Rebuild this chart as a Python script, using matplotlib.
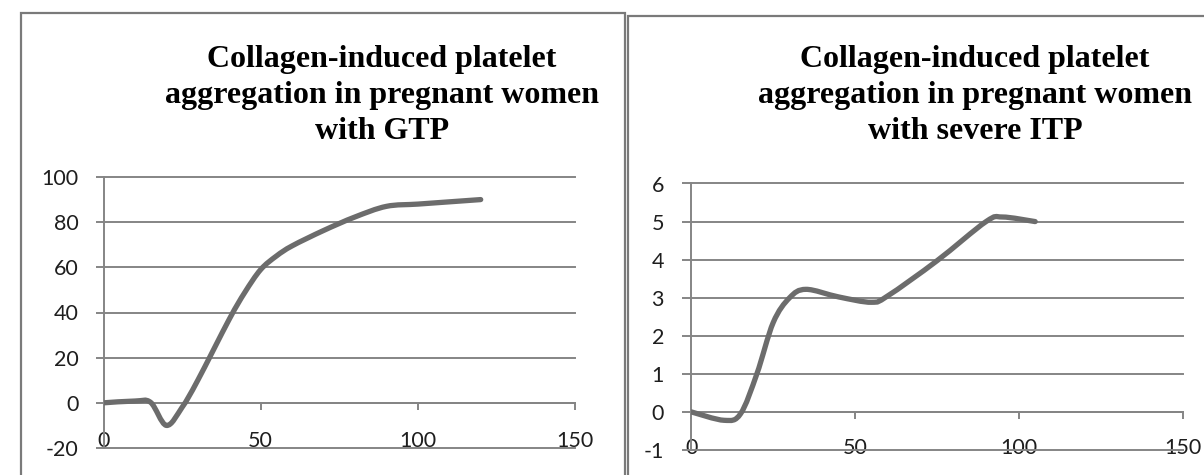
import numpy as np
import matplotlib
matplotlib.use('Agg')
from matplotlib import pyplot as plt
from matplotlib.path import Path
from matplotlib.patches import PathPatch, Rectangle

# aggregation curves, time vs. aggregation
gtp_time = [0, 10, 15, 20, 25, 30, 40, 45, 50, 55, 60, 70, 80, 90, 100, 110, 120]
gtp_aggr = [0, 0.8, 0.2, -10, -2, 10, 37, 49, 59, 65, 69.5, 76.3, 82.3, 87, 88, 89, 90]

itp_time = [0, 10, 15, 20, 25, 30, 35, 45, 55, 60, 75, 90, 95, 105]
itp_aggr = [0, -0.22, -0.05, 1.0, 2.35, 3.0, 3.22, 3.02, 2.88, 3.05, 3.97, 5.0, 5.12, 5.0]

gtp_title = 'Collagen-induced platelet\naggregation in pregnant women\nwith GTP'
itp_title = 'Collagen-induced platelet\naggregation in pregnant women\nwith severe ITP'

x_ticks = [0, 50, 100, 150]
gtp_yticks = [-20, 0, 20, 40, 60, 80, 100]
itp_yticks = [-1, 0, 1, 2, 3, 4, 5, 6]

line_color = '#6c6c6c'
grid_color = '#858585'
tick_font = ['Lato', 'DejaVu Sans']
title_font = ['Liberation Serif', 'DejaVu Serif']


def smooth_path(xs, ys, tension=1 / 6):
    # spreadsheet-style smoothed line: cubic bezier through every point
    pts = np.column_stack([xs, ys]).astype(float)
    n = len(pts)
    verts = [pts[0]]
    codes = [Path.MOVETO]
    for i in range(n - 1):
        p0 = pts[i - 1] if i > 0 else pts[i]
        p1 = pts[i]
        p2 = pts[i + 1]
        p3 = pts[i + 2] if i + 2 < n else pts[i + 1]
        c1 = p1 + (p2 - p0) * tension
        c2 = p2 - (p3 - p1) * tension
        verts += [c1, c2, p2]
        codes += [Path.CURVE4] * 3
    return Path(verts, codes)


def draw_panel(ax, xs, ys, yticks, title, title_x, tick_len, label_pad_y, label_pad_x):
    for side in ['top', 'right']:
        ax.spines[side].set_visible(False)
    # x axis crosses at zero; set before ticks since it resets them
    ax.spines['bottom'].set_position(('data', 0))
    ax.spines['bottom'].set_color(grid_color)
    ax.spines['bottom'].set_linewidth(1.4)
    ax.spines['left'].set_color(grid_color)
    ax.spines['left'].set_linewidth(1.4)

    ax.set_xlim(0, 150)
    ax.set_ylim(yticks[0], yticks[-1])
    ax.set_xticks(x_ticks)
    ax.set_yticks(yticks)
    ax.set_xticklabels([str(t) for t in x_ticks], family=tick_font, fontsize=15.5, color='#1e1e1e')
    ax.set_yticklabels([str(t) for t in yticks], family=tick_font, fontsize=15.5, color='#1e1e1e')

    ax.tick_params(axis='y', direction='out', length=tick_len, width=1.4, color=grid_color, pad=label_pad_y)
    ax.tick_params(axis='x', direction='out', length=5, width=1.4, color=grid_color, pad=label_pad_x)

    ax.yaxis.grid(True, color=grid_color, linewidth=1.4)
    for gl in ax.get_ygridlines():
        gl.set_clip_on(False)
    ax.set_axisbelow(True)

    patch = PathPatch(smooth_path(xs, ys), facecolor='none', edgecolor=line_color,
                      linewidth=3.8, capstyle='round', joinstyle='round', zorder=3)
    ax.add_patch(patch)

    # baseline of the last title line
    ax.figure.text(title_x, 1 - 139 / 475, title, ha='center', va='baseline',
                   family=title_font, fontweight='bold', fontsize=23, linespacing=1.32)


fig = plt.figure(figsize=(12.04, 4.75), dpi=100)

# panel frames
fig.patches.append(Rectangle((20.7 / 1204, -0.2), (625 - 20.7) / 1204, 1.2 - 12.7 / 475,
                             transform=fig.transFigure, fill=False, edgecolor='#7a7a7a', linewidth=1.6))
fig.patches.append(Rectangle((628 / 1204, -0.2), 0.6, 1.2 - 15.7 / 475,
                             transform=fig.transFigure, fill=False, edgecolor='#7a7a7a', linewidth=1.6))

ax1 = fig.add_axes([103.5 / 1204, 1 - 448 / 475, 471.5 / 1204, 271 / 475])
draw_panel(ax1, gtp_time, gtp_aggr, gtp_yticks, gtp_title, 382 / 1204, 5.8, 12, 15)

ax2 = fig.add_axes([691.4 / 1204, 1 - 450 / 475, 491.1 / 1204, 266.5 / 475])
draw_panel(ax2, itp_time, itp_aggr, itp_yticks, itp_title, 975 / 1204, 6.8, 13, 14)

fig.savefig('out.png', dpi=100)
